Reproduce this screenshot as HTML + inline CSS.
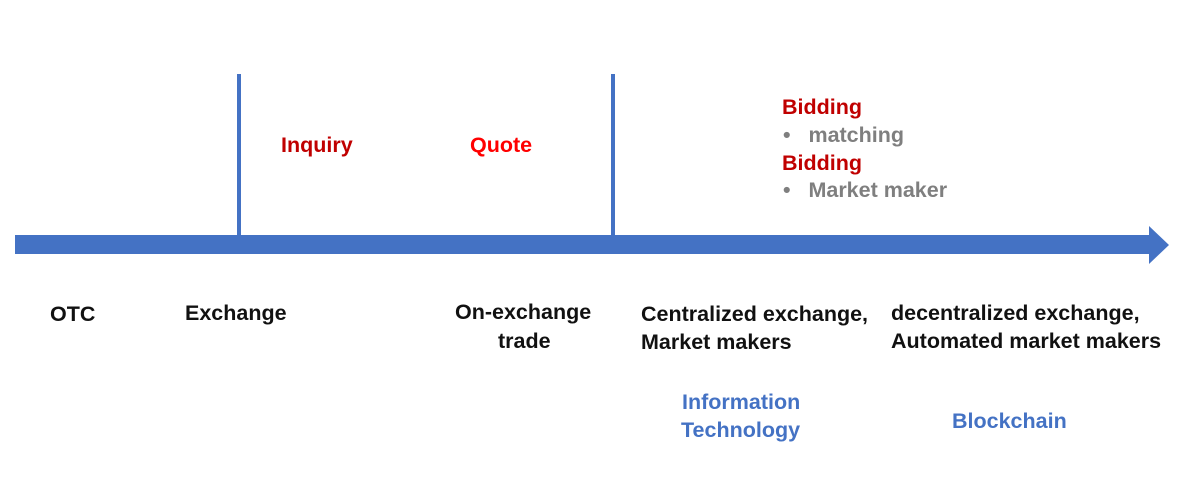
<!DOCTYPE html>
<html><head><meta charset="utf-8"><style>
body{margin:0;width:1190px;height:487px;background:#fff;position:relative;overflow:hidden;font-family:"Liberation Sans","Noto Sans CJK SC",sans-serif;font-weight:bold;font-size:21.5px}
.t{position:absolute;line-height:26px;white-space:nowrap}
.k{color:#111}.r{color:#c00000}.rr{color:#ff0000}.g{color:#7f7f7f}.b{color:#4472c4}
</style></head><body>
<svg width="1190" height="487" style="position:absolute;left:0;top:0">
<rect x="237" y="74" width="4" height="163" fill="#4472c4"/>
<rect x="611" y="74" width="4" height="163" fill="#4472c4"/>
<polygon points="15,235 1149,235 1149,226 1169,245 1149,264 1149,254 15,254" fill="#4472c4"/>
</svg>
<div class="t r" style="left:281px;top:132px">Inquiry</div>
<div class="t rr" style="left:470px;top:132px">Quote</div>
<div class="t r" style="left:782px;top:94px">Bidding</div>
<div class="t g" style="left:783px;top:122px">•&nbsp;&nbsp;&nbsp;matching</div>
<div class="t r" style="left:782px;top:150px">Bidding</div>
<div class="t g" style="left:783px;top:177px">•&nbsp;&nbsp;&nbsp;Market maker</div>
<div class="t k" style="left:50px;top:301px">OTC</div>
<div class="t k" style="left:185px;top:300px">Exchange</div>
<div class="t k" style="left:455px;top:299px">On-exchange</div>
<div class="t k" style="left:498px;top:328px">trade</div>
<div class="t k" style="left:641px;top:301px">Centralized exchange,</div>
<div class="t k" style="left:641px;top:329px">Market makers</div>
<div class="t k" style="left:891px;top:300px">decentralized exchange,</div>
<div class="t k" style="left:891px;top:328px">Automated market makers</div>
<div class="t b" style="left:682px;top:389px">Information</div>
<div class="t b" style="left:681px;top:417px">Technology</div>
<div class="t b" style="left:952px;top:408px">Blockchain</div>
</body></html>
